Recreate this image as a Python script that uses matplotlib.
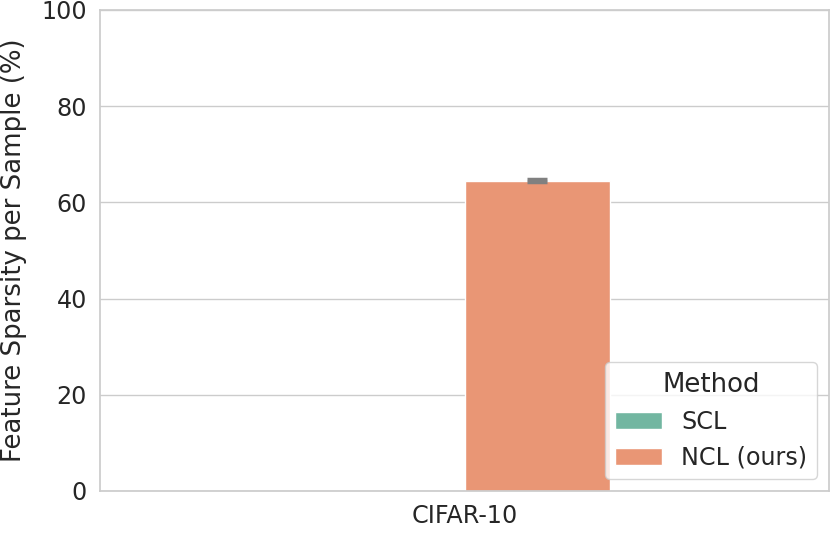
import matplotlib
matplotlib.use("Agg")
import matplotlib.pyplot as plt
import seaborn as sns

datasets = ["CIFAR-10"]
methods = ["SCL", "NCL (ours)"]
sparsity = {"SCL": [0.05], "NCL (ours)": [64.5]}
sparsity_err = {"SCL": [0.0], "NCL (ours)": [0.35]}
colors = ["#72b6a1", "#e99675"]

sns.set_theme(style="whitegrid", font_scale=1.56)
plt.rcParams["font.family"] = ["DejaVu Sans"]

fig = plt.figure(figsize=(8.3, 5.36), dpi=100)
ax = fig.add_axes([100 / 830, 1 - 491 / 536, 729 / 830, 481 / 536])

width = 0.4
n = len(methods)
for i, m in enumerate(methods):
    offset = -width / 2 + width / n * (i + 0.5)
    xs = [j + offset for j in range(len(datasets))]
    ax.bar(xs, sparsity[m], width=width / n, color=colors[i], label=m, zorder=2)
    if sparsity_err[m][0] > 0:
        ax.errorbar(xs, sparsity[m], yerr=sparsity_err[m], fmt="none",
                    ecolor="#808080", elinewidth=2.5, capsize=7, capthick=2.5, zorder=3)

ax.set_xlim(-0.5, len(datasets) - 0.5)
ax.set_ylim(0, 100)
ax.set_xticks(range(len(datasets)))
ax.set_xticklabels(datasets)
ax.set_yticks([0, 20, 40, 60, 80, 100])
ax.xaxis.grid(False)
ax.set_ylabel("Feature Sparsity per Sample (%)", labelpad=10)
ax.legend(title="Method", loc="lower right")

fig.savefig("out.png", dpi=100)
